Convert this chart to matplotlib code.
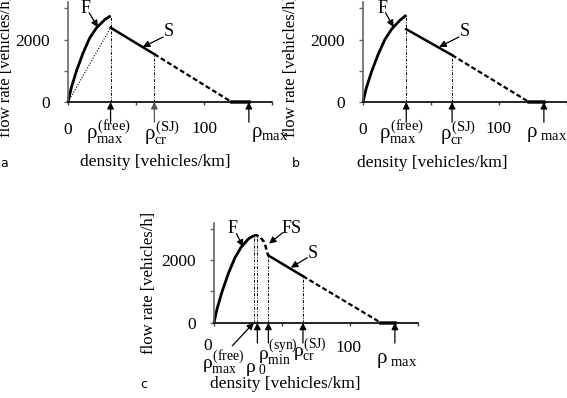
import matplotlib
matplotlib.use("Agg")
import matplotlib.pyplot as plt

plt.rcParams['font.family'] = ['Liberation Serif', 'DejaVu Serif']
plt.rcParams['mathtext.fontset'] = 'custom'
plt.rcParams['mathtext.rm'] = 'Liberation Serif'
plt.rcParams['mathtext.it'] = 'Liberation Serif'
plt.rcParams['mathtext.bf'] = 'Liberation Serif:bold'

# ---------------- data ----------------
# panel a
rho_F_a = [0, 2.4, 6.1, 11.0, 15.9, 20.8, 26.9, 31.3]
q_F_a = [0, 450, 980, 1560, 2045, 2364, 2630, 2760]
rho_S_a = [31.3, 63.5]
q_S_a = [2380, 1530]
rho_Sd_a = [63.5, 120.3]
q_Sd_a = [1530, 0]
rho_flat_a = [120.3, 133]
rho_dot_a = [0, 31.3]
q_dot_a = [0, 2380]
marks_a = [31.3, 63.5, 133]

# panel b
rho_F_b = [0, 2.4, 6.2, 11.2, 16.2, 21.2, 27.3, 31.8]
q_F_b = [0, 440, 960, 1530, 2010, 2340, 2620, 2780]
rho_S_b = [31.8, 65.5]
q_S_b = [2330, 1500]
rho_Sd_b = [65.5, 122]
q_Sd_b = [1500, 0]
rho_flat_b = [122, 133]
marks_b = [31.8, 65.5, 133]

# panel c
rho_F_c = [0, 2.3, 5.9, 10.6, 15.3, 20.0, 25.5, 29.3]
q_F_c = [0, 450, 990, 1580, 2070, 2420, 2690, 2790]
rho_FS_c = [29.3, 31.3, 34.3, 36.8, 38.1, 38.8, 40.0]
q_FS_c = [2790, 2800, 2724, 2584, 2424, 2265, 2150]
rho_S_c = [40.0, 65.4]
q_S_c = [2150, 1490]
rho_Sd_c = [65.4, 122.6]
q_Sd_c = [1490, 0]
rho_flat_c = [122.6, 133]
marks_c = [29.3, 31.9, 40.0, 65.4, 133]

yticks = [0, 1000, 2000, 3000]
yticklabels = ['0', '', '2000', '']
xticks = [0, 50, 100, 150]

W, H = 567, 398
fig = plt.figure(figsize=(W / 100, H / 100), dpi=100)

FS = 12.5
RS = 15
RSC = 14


def px(x, y):
    return x / W, 1 - y / H


def make_ax(x0, y0):
    ax = fig.add_axes([x0 / W, (H - y0) / H, 204 / W, 100 / H])
    ax.set_xlim(0, 150)
    ax.set_ylim(0, 3200)
    for s in ['top', 'right']:
        ax.spines[s].set_visible(False)
    ax.spines['left'].set_color('#666666')
    ax.spines['left'].set_linewidth(1.2)
    ax.spines['bottom'].set_color('black')
    ax.spines['bottom'].set_linewidth(1.2)
    ax.set_yticks(yticks)
    ax.set_yticklabels(yticklabels, fontsize=FS)
    ax.set_xticks(xticks)
    ax.set_xticklabels([])
    ax.tick_params(axis='y', length=3, width=1, color='#666666', pad=10)
    ax.tick_params(axis='x', length=2.5, width=1, color='#444444')
    ax.patch.set_alpha(0)
    return ax


def draw_common(ax, rF, qF, rS, qS, rSd, qSd, rflat):
    ax.plot(rF, qF, color='black', lw=2.0, solid_capstyle='butt', clip_on=False)
    ax.plot(rS, qS, color='black', lw=1.8, clip_on=False)
    ax.plot(rSd, qSd, color='black', lw=1.6, ls=(0, (2.2, 1.2)), clip_on=False)
    ax.plot(rflat, [0, 0], color='#222222', lw=2.6, clip_on=False)


def vline(ax, x, ytop):
    ax.plot([x, x], [0, ytop], color='black', lw=0.7, ls=(0, (3, 1.5, 1, 1.5)))


AP = dict(arrowstyle='-|>', lw=0.9, color='black', mutation_scale=10,
          shrinkA=0, shrinkB=0)


def up_arrow(ax, x, color='black'):
    ap = dict(AP)
    ap['color'] = color
    ax.annotate('', xy=(x, 0), xytext=(x, -650), arrowprops=ap,
                annotation_clip=False)


def label_arrow(ax, text, tip, tail, textpos):
    ax.annotate('', xy=tip, xytext=tail, arrowprops=AP, annotation_clip=False)
    ax.text(textpos[0], textpos[1], text, fontsize=FS + 0.5, ha='center',
            va='center', clip_on=False)


def ftext(x, y, s, size=FS, **kw):
    fig.text(*px(x, y), s, fontsize=size, ha='center', va='center', **kw)


# ---------------- panel a ----------------
axa = make_ax(68, 102)
axa.plot(rho_dot_a, q_dot_a, color='black', lw=0.8, ls=(0, (1, 1.5)))
draw_common(axa, rho_F_a, q_F_a, rho_S_a, q_S_a, rho_Sd_a, q_Sd_a, rho_flat_a)
vline(axa, marks_a[0], q_F_a[-1])
vline(axa, marks_a[1], q_S_a[-1])
up_arrow(axa, marks_a[0])
up_arrow(axa, marks_a[1], color='#555555')
up_arrow(axa, marks_a[2])
label_arrow(axa, 'F', tip=(22, 2390), tail=(15.5, 2860), textpos=(13, 3000))
label_arrow(axa, 'S', tip=(55, 1760), tail=(70, 2080), textpos=(74, 2240))

ftext(68, 130, '0')
ftext(204, 129, '100')
ftext(109, 133, r'$\rho^{(\mathrm{free})}_{\mathrm{max}}$', RS)
ftext(162, 133, r'$\rho^{(\mathrm{SJ})}_{\mathrm{cr}}$', RS)
ftext(270, 135, r'$\rho_{\mathrm{max}}$', RS)
ftext(155, 162, 'density [vehicles/km]')
ftext(6, 66, 'flow rate [vehicles/h]', 12, rotation=90)
ftext(4, 163, 'a', 9, family='DejaVu Sans')

# ---------------- panel b ----------------
axb = make_ax(363, 102)
draw_common(axb, rho_F_b, q_F_b, rho_S_b, q_S_b, rho_Sd_b, q_Sd_b, rho_flat_b)
vline(axb, marks_b[0], q_F_b[-1])
vline(axb, marks_b[1], q_S_b[-1])
for m in marks_b:
    up_arrow(axb, m)
label_arrow(axb, 'F', tip=(22.5, 2400), tail=(16.5, 2860), textpos=(14.5, 3000))
label_arrow(axb, 'S', tip=(56, 1760), tail=(70.5, 2080), textpos=(74.5, 2240))

ftext(363, 130, '0')
ftext(498, 129, '100')
ftext(402, 133, r'$\rho^{(\mathrm{free})}_{\mathrm{max}}$', RS)
ftext(458, 133, r'$\rho^{(\mathrm{SJ})}_{\mathrm{cr}}$', RS)
ftext(547, 134, r'$\rho_{\ \mathrm{max}}$', RS)
ftext(432, 163, 'density [vehicles/km]')
ftext(291, 66, 'flow rate [vehicles/h]', 12, rotation=90)
ftext(296, 163, 'b', 9, family='DejaVu Sans')

# ---------------- panel c ----------------
axc = make_ax(214, 322.7)
draw_common(axc, rho_F_c, q_F_c, rho_S_c, q_S_c, rho_Sd_c, q_Sd_c, rho_flat_c)
axc.plot(rho_FS_c, q_FS_c, color='black', lw=1.8, ls=(0, (2, 1.2)))
vline(axc, marks_c[0], q_F_c[-1])
vline(axc, marks_c[1], q_FS_c[1])
vline(axc, marks_c[2], q_S_c[0])
vline(axc, marks_c[3], q_S_c[-1])
axc.annotate('', xy=(marks_c[0], 0), xytext=(13.4, -740), arrowprops=AP,
             annotation_clip=False)
for m in marks_c[1:]:
    up_arrow(axc, m)
label_arrow(axc, 'F', tip=(21.5, 2430), tail=(16.5, 2850), textpos=(13.5, 3000))
label_arrow(axc, 'FS', tip=(40.5, 2530), tail=(50.5, 2880), textpos=(57, 3000))
label_arrow(axc, 'S', tip=(56.5, 1760), tail=(68.5, 2080), textpos=(73, 2230))

ftext(208, 346, '0')
ftext(348, 348, '100')
ftext(223, 362, r'$\rho^{(\mathrm{free})}_{\mathrm{max}}$', RSC)
ftext(256, 369, r'$\rho_{\ 0}$', RSC)
ftext(278, 352, r'$\rho^{(\mathrm{syn})}_{\mathrm{min}}$', RSC)
ftext(310, 350, r'$\rho^{(\mathrm{SJ})}_{\mathrm{cr}}$', RSC)
ftext(397, 360, r'$\rho_{\ \mathrm{max}}$', RS)
ftext(285, 384, 'density [vehicles/km]')
ftext(149, 283, 'flow rate [vehicles/h]', 12, rotation=90)
ftext(144, 384, 'c', 9, family='DejaVu Sans')

fig.savefig('out.png', dpi=100)
